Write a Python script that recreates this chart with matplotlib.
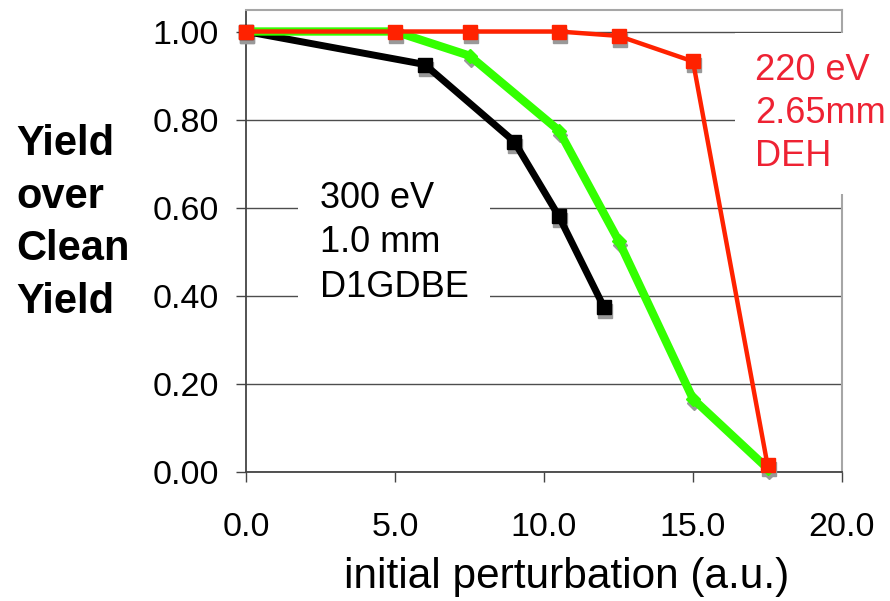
import matplotlib
matplotlib.use("Agg")
import matplotlib.pyplot as plt
from matplotlib.transforms import offset_copy
from matplotlib.ticker import FormatStrFormatter

plt.rcParams["font.family"] = ["Liberation Sans", "DejaVu Sans"]

# data
x_black = [0, 6, 9, 10.5, 12]
y_black = [1.0, 0.925, 0.75, 0.58, 0.375]

x_green = [0, 5, 7.5, 10.5, 12.5, 15, 17.5]
y_green = [1.0, 1.0, 0.945, 0.775, 0.525, 0.165, 0.007]

x_red = [0, 5, 7.5, 10.5, 12.5, 15, 17.5]
y_red = [1.0, 1.0, 1.0, 1.0, 0.99, 0.932, 0.015]

x_ticks = [0, 5, 10, 15, 20]
y_ticks = [0.0, 0.2, 0.4, 0.6, 0.8, 1.0]

label_black = "300 eV\n1.0 mm\nD1GDBE"
label_red = "220 eV\n2.65mm\nDEH"

fig = plt.figure(figsize=(8.9, 6.01), dpi=100)
ax = fig.add_axes([246 / 890, 1 - 471.5 / 601, (842 - 246) / 890, (471.5 - 9.5) / 601])
ax.set_xlim(0, 20)
ax.set_ylim(0, 1.05)

# drop shadows under the markers
shadow = offset_copy(ax.transData, fig=fig, x=1, y=-4, units="dots")
for xs, ys, m, ms in [(x_black, y_black, "s", 10), (x_green, y_green, "D", 7.5), (x_red, y_red, "s", 10.5)]:
    ax.plot(xs, ys, linestyle="none", marker=m, markersize=ms, color="#999999",
            transform=shadow, zorder=2.8, clip_on=False)

ax.plot(x_black, y_black, color="black", lw=5, marker="s", markersize=10, zorder=3, clip_on=False)
ax.plot(x_green, y_green, color="#33ff00", lw=6, marker="D", markersize=7.5, zorder=4, clip_on=False)
ax.plot(x_red, y_red, color="#ff2200", lw=3.2, marker="s", markersize=10.5, zorder=5, clip_on=False)

ax.set_xticks(x_ticks)
ax.set_yticks(y_ticks)
ax.xaxis.set_major_formatter(FormatStrFormatter("%.1f"))
ax.yaxis.set_major_formatter(FormatStrFormatter("%.2f"))
ax.tick_params(axis="both", direction="out", length=7.5, width=1, color="#444444", labelsize=24.5)
ax.tick_params(axis="y", pad=12)
ax.tick_params(axis="x", pad=22)
ax.yaxis.grid(True, color="#4d4d4d", lw=1)
ax.set_axisbelow(True)

for s in ["left", "bottom"]:
    ax.spines[s].set_color("#444444")
    ax.spines[s].set_linewidth(1.3)
for s in ["top", "right"]:
    ax.spines[s].set_color("#a6a6a6")
    ax.spines[s].set_linewidth(1.5)

ax.set_xlabel("initial perturbation (a.u.)", fontsize=30.5, labelpad=10)
ax.xaxis.label.set_x((567 - 246) / 596)

fig.text(16 / 890, 1 - 223 / 601, "Yield\nover\nClean\nYield", fontsize=30, fontweight="bold",
         ha="left", va="center", linespacing=1.4)

ax.text(2.48, 0.52, label_black, fontsize=26, color="black", ha="left", va="center",
        linespacing=1.35, zorder=6,
        bbox=dict(boxstyle="square,pad=0.6", facecolor="white", edgecolor="none"))
ax.text(17.08, 0.813, label_red, fontsize=26, color="#ee2233", ha="left", va="center",
        linespacing=1.3, zorder=6, clip_on=False,
        bbox=dict(boxstyle="square,pad=0.55", facecolor="white", edgecolor="none"))

fig.savefig("out.png", dpi=100)
